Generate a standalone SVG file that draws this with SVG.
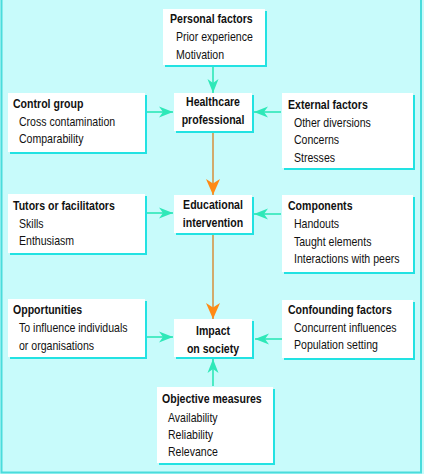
<svg xmlns="http://www.w3.org/2000/svg" width="424" height="474" viewBox="0 0 424 474">
<defs>
<style>
.bg{fill:#c8fbfb}
.frame{fill:none;stroke:#4adcdc;stroke-width:2}
.sh{fill:#22e2e2}
.box{fill:#ffffff}
text{font-family:"Liberation Sans",Arial,sans-serif;font-size:12px;fill:#111}
.t{font-weight:bold}
.c{font-weight:bold;text-anchor:middle}
.g{stroke:#2ee8b8;stroke-width:1.6;fill:none}
.o{stroke:#d2aa6c;stroke-width:2;fill:none}
</style>
<marker id="ag" viewBox="0 0 14 12" refX="14" refY="6" markerWidth="14" markerHeight="12" markerUnits="userSpaceOnUse" orient="auto">
<path d="M0,0.5 L14,6 L0,11.5 L4,6 Z" fill="#2ee8b8"/>
</marker>
<marker id="ao" viewBox="0 0 16 14" refX="16" refY="7" markerWidth="16" markerHeight="14" markerUnits="userSpaceOnUse" orient="auto">
<path d="M0,0 L16,7 L0,14 L4.5,7 Z" fill="#ff8a14"/>
</marker>
</defs>
<rect class="bg" x="0" y="0" width="424" height="474"/>
<path class="frame" d="M1.5,-2 V472.5 H421 V-2"/>

<g id="connectors">
<line class="g" x1="213" y1="67" x2="213" y2="93" marker-end="url(#ag)"/>
<line class="g" x1="146" y1="112" x2="173" y2="112" marker-end="url(#ag)"/>
<line class="g" x1="281" y1="112" x2="254" y2="112" marker-end="url(#ag)"/>
<line class="o" x1="213" y1="133" x2="213" y2="195" marker-end="url(#ao)"/>
<line class="g" x1="146" y1="213" x2="173" y2="213" marker-end="url(#ag)"/>
<line class="g" x1="281" y1="214" x2="254" y2="214" marker-end="url(#ag)"/>
<line class="o" x1="213" y1="235" x2="213" y2="319" marker-end="url(#ao)"/>
<line class="g" x1="146" y1="337" x2="173" y2="337" marker-end="url(#ag)"/>
<line class="g" x1="282" y1="339" x2="255" y2="339" marker-end="url(#ag)"/>
<line class="g" x1="213" y1="386" x2="213" y2="359" marker-end="url(#ag)"/>
</g>

<g id="personal">
<rect class="sh" x="165" y="11" width="102" height="56"/>
<rect class="box" x="163" y="9" width="102" height="56"/>
<g transform="translate(170 0) scale(0.88 1)">
<text class="t" y="23.5">Personal factors</text>
<text x="6.8" y="41">Prior experience</text>
<text x="6.8" y="59">Motivation</text>
</g>
</g>

<g id="control">
<rect class="sh" x="10" y="95" width="137" height="59"/>
<rect class="box" x="8" y="93" width="137" height="59"/>
<g transform="translate(13 0) scale(0.88 1)">
<text class="t" y="108">Control group</text>
<text x="6.8" y="126">Cross contamination</text>
<text x="6.8" y="143.5">Comparability</text>
</g>
</g>

<g id="healthcare">
<rect class="sh" x="176" y="95" width="78" height="38"/>
<rect class="box" x="174" y="93" width="78" height="38"/>
<g transform="translate(213 0) scale(0.88 1)">
<text class="c" y="106.5">Healthcare</text>
<text class="c" y="124">professional</text>
</g>
</g>

<g id="external">
<rect class="sh" x="284" y="95" width="131" height="75"/>
<rect class="box" x="282" y="93" width="131" height="75"/>
<g transform="translate(288 0) scale(0.88 1)">
<text class="t" y="109">External factors</text>
<text x="6.8" y="127">Other diversions</text>
<text x="6.8" y="144.5">Concerns</text>
<text x="6.8" y="162">Stresses</text>
</g>
</g>

<g id="tutors">
<rect class="sh" x="10" y="196" width="137" height="59"/>
<rect class="box" x="8" y="194" width="137" height="59"/>
<g transform="translate(13 0) scale(0.88 1)">
<text class="t" y="210">Tutors or facilitators</text>
<text x="6.8" y="228">Skills</text>
<text x="6.8" y="245.5">Enthusiasm</text>
</g>
</g>

<g id="educational">
<rect class="sh" x="176" y="197" width="78" height="38"/>
<rect class="box" x="174" y="195" width="78" height="38"/>
<g transform="translate(213 0) scale(0.88 1)">
<text class="c" y="209">Educational</text>
<text class="c" y="226.7">intervention</text>
</g>
</g>

<g id="components">
<rect class="sh" x="284" y="197" width="131" height="77"/>
<rect class="box" x="282" y="195" width="131" height="77"/>
<g transform="translate(288 0) scale(0.88 1)">
<text class="t" y="210">Components</text>
<text x="6.8" y="227.7">Handouts</text>
<text x="6.8" y="245.7">Taught elements</text>
<text x="6.8" y="263.3">Interactions with peers</text>
</g>
</g>

<g id="opportunities">
<rect class="sh" x="10" y="301" width="137" height="58"/>
<rect class="box" x="8" y="299" width="137" height="58"/>
<g transform="translate(13 0) scale(0.88 1)">
<text class="t" y="314">Opportunities</text>
<text x="6.8" y="332.3">To influence individuals</text>
<text x="6.8" y="350">or organisations</text>
</g>
</g>

<g id="impact">
<rect class="sh" x="176" y="321" width="78" height="38"/>
<rect class="box" x="174" y="319" width="78" height="38"/>
<g transform="translate(213 0) scale(0.88 1)">
<text class="c" y="335">Impact</text>
<text class="c" y="352.7">on society</text>
</g>
</g>

<g id="confounding">
<rect class="sh" x="284" y="302" width="131" height="58"/>
<rect class="box" x="282" y="300" width="131" height="58"/>
<g transform="translate(288 0) scale(0.88 1)">
<text class="t" y="314">Confounding factors</text>
<text x="6.8" y="332">Concurrent influences</text>
<text x="6.8" y="349.5">Population setting</text>
</g>
</g>

<g id="objective">
<rect class="sh" x="159" y="389" width="116" height="76"/>
<rect class="box" x="157" y="387" width="116" height="76"/>
<g transform="translate(162 0) scale(0.88 1)">
<text class="t" y="403.3">Objective measures</text>
<text x="6.8" y="421.7">Availability</text>
<text x="6.8" y="439">Reliability</text>
<text x="6.8" y="456">Relevance</text>
</g>
</g>
</svg>
